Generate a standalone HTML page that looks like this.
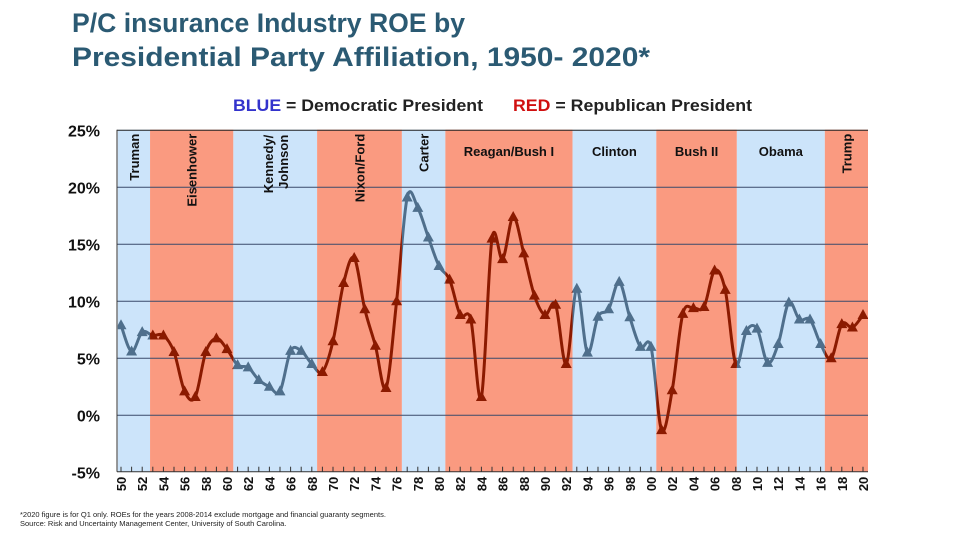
<!DOCTYPE html>
<html><head><meta charset="utf-8"><style>
body{margin:0;background:#fff;width:960px;height:540px;overflow:hidden;font-family:"Liberation Sans",sans-serif}
</style></head><body>
<svg width="960" height="540" xmlns="http://www.w3.org/2000/svg" font-family="Liberation Sans, sans-serif">
<text x="72" y="32" font-size="27" font-weight="bold" fill="#2b5a73" textLength="393" lengthAdjust="spacingAndGlyphs">P/C insurance Industry ROE by</text>
<text x="72" y="66" font-size="27" font-weight="bold" fill="#2b5a73" textLength="578" lengthAdjust="spacingAndGlyphs">Presidential Party Affiliation, 1950- 2020*</text>
<text x="233" y="111" font-size="17" font-weight="bold" textLength="250" lengthAdjust="spacingAndGlyphs"><tspan fill="#3333cc">BLUE</tspan><tspan fill="#222"> = Democratic President</tspan></text>
<text x="513" y="111" font-size="17" font-weight="bold" textLength="239" lengthAdjust="spacingAndGlyphs"><tspan fill="#d01010">RED</tspan><tspan fill="#222"> = Republican President</tspan></text>
<g id="bands"></g><g id="grid"></g><g id="series"></g><g id="axes"></g><g id="labels"></g>
<text x="20" y="517" font-size="7.5" fill="#222">*2020 figure is for Q1 only.  ROEs for the years 2008-2014 exclude mortgage and financial guaranty segments.</text>
<text x="20" y="526" font-size="7.5" fill="#222">Source: Risk and Uncertainty Management Center, University of South Carolina.</text>
</svg>
<script>
const years=[];for(let y=1950;y<=2020;y++)years.push(y);
const roe=[7.9,5.6,7.3,7.0,7.0,5.55,2.1,1.6,5.55,6.75,5.8,4.4,4.2,3.1,2.5,2.1,5.65,5.65,4.5,3.8,6.5,11.6,13.8,9.3,6.1,2.4,10.0,19.1,18.2,15.6,13.1,11.9,8.8,8.4,1.6,15.5,13.7,17.4,14.2,10.5,8.8,9.7,4.5,11.1,5.5,8.65,9.3,11.7,8.6,6.0,6.0,-1.3,2.2,8.9,9.4,9.5,12.7,11.0,4.5,7.4,7.6,4.6,6.25,9.9,8.4,8.4,6.25,5.0,8.0,7.7,8.8];
const presidents=["Truman","Eisenhower","Kennedy/ Johnson","Nixon/Ford","Carter","Reagan/Bush I","Clinton","Bush II","Obama","Trump"];
const termStart=[1949.7,1952.74,1960.6,1968.5,1976.5,1980.6,1992.6,2000.5,2008.1,2016.4];
const termEnd=[1952.74,1960.6,1968.5,1976.5,1980.6,1992.6,2000.5,2008.1,2016.4,2020.5];
const party=["D","R","D","R","D","R","D","R","D","R"];
const yTicks=[25,20,15,10,5,0,-5];
const yTickLabels=["25%","20%","15%","10%","5%","0%","-5%"];
const NS="http://www.w3.org/2000/svg";
const X=y=>121+(y-1950)*10.6, Y=v=>415.3-11.4*v;
const L=117,R=868,T=129.7,B=471.7;
function mk(tag,at,par){const e=document.createElementNS(NS,tag);for(const k in at)e.setAttribute(k,at[k]);document.getElementById(par)?document.getElementById(par).appendChild(e):par.appendChild(e);return e;}
const svg=document.querySelector('svg');
const defs=mk('defs',{},svg);
const cD=mk('clipPath',{id:'cD'},defs), cR=mk('clipPath',{id:'cR'},defs);
presidents.forEach((p,i)=>{
 const x0=Math.max(L,X(termStart[i])), x1=Math.min(R,X(termEnd[i]));
 const r=mk('rect',{x:x0,y:T,width:x1-x0,height:B-T,fill:party[i]=="D"?"#cce4fa":"#fa9a80"},'bands');
 
 
 mk('rect',{x:x0,y:0,width:x1-x0,height:540},party[i]=="D"?cD:cR);
 const cx=(x0+x1)/2;
 let t;
 if(["Reagan/Bush I","Clinton","Bush II","Obama"].includes(p)){
  t=mk('text',{x:cx,y:156,'font-size':13,'font-weight':'bold','text-anchor':'middle',fill:'#111'},'labels');t.textContent=p;
 } else if(p=="Kennedy/ Johnson"){
  t=mk('text',{transform:`translate(${cx+2},${T+5}) rotate(-90)`,'font-size':13,'font-weight':'bold','text-anchor':'end',fill:'#111'},'labels');
  const a=mk('tspan',{x:0,dy:-4},t);a.textContent="Kennedy/";const b=mk('tspan',{x:0,dy:15},t);b.textContent="Johnson";
 } else {
  t=mk('text',{transform:`translate(${cx+5},${T+4}) rotate(-90)`,'font-size':13,'font-weight':'bold','text-anchor':'end',fill:'#111'},'labels');t.textContent=p;
 }
 
 
});
yTicks.forEach((v,i)=>{
 if(v>-5){const g=mk('line',{x1:L,x2:R,y1:Y(v),y2:Y(v),stroke:i==0?'#222':'#3a4a6a','stroke-width':1},'grid');
 
 }
 const t=mk('text',{x:100,y:Y(v)+6,'font-size':16,'font-weight':'bold','text-anchor':'end',fill:'#111'},'axes');t.textContent=yTickLabels[i];
 
 
});
mk('line',{x1:L,x2:L,y1:T,y2:B,stroke:'#333'},'axes');
mk('line',{x1:L,x2:R,y1:B,y2:B,stroke:'#333'},'axes');
years.forEach((yr,i)=>{
 mk('line',{x1:X(yr),x2:X(yr),y1:B-5,y2:B,stroke:'#333'},'axes');
 if(yr%2==0){const t=mk('text',{transform:`translate(${X(yr)+5},${B+5}) rotate(-90)`,'font-size':13,'font-weight':'bold','text-anchor':'end',fill:'#111'},'axes');
 t.textContent=String(yr%100).padStart(2,'0');
 
 }
});
const pts=years.map((y,i)=>[X(y),Y(roe[i])]);
let d=`M${pts[0][0]},${pts[0][1]}`;
for(let i=0;i<pts.length-1;i++){const p0=pts[Math.max(0,i-1)],p1=pts[i],p2=pts[i+1],p3=pts[Math.min(pts.length-1,i+2)];const k=1/6;
 d+=`C${p1[0]+(p2[0]-p0[0])*k},${p1[1]+(p2[1]-p0[1])*k} ${p2[0]-(p3[0]-p1[0])*k},${p2[1]-(p3[1]-p1[1])*k} ${p2[0]},${p2[1]}`;}
[['cD','#4f6f8c'],['cR','#8b1a00']].forEach(([c,col])=>{
 const g=mk('g',{'clip-path':`url(#${c})`},'series');
 
 
 mk('path',{d:d,fill:'none',stroke:col,'stroke-width':3},g);
 pts.forEach(p=>{const m=mk('path',{d:`M${p[0]},${p[1]-6}L${p[0]+5.5},${p[1]+4}L${p[0]-5.5},${p[1]+4}Z`,fill:col},g);
 
 });
});
</script>
</body></html>
